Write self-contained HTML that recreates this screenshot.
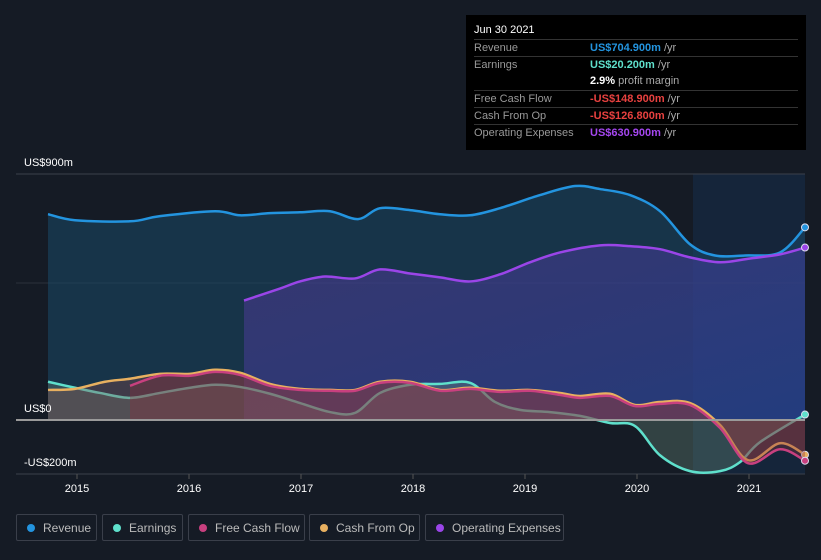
<!DOCTYPE html>
<html><head><meta charset="utf-8"><style>
body{margin:0;background:#151b25;font-family:"Liberation Sans",sans-serif;}
#wrap{position:relative;width:821px;height:560px;overflow:hidden;background:#151b25;}
.tt{position:absolute;left:466px;top:15px;width:340px;height:135px;background:#000;color:#ccc;font-size:11px;}
.tt .row{position:absolute;left:8px;width:324px;height:17px;border-top:1px solid #333;line-height:17px;}
.tt .l{position:absolute;left:0;color:#999;}
.tt .v{position:absolute;left:116px;}
.leg{position:absolute;top:514px;height:27px;border:1px solid #3a3f4a;border-radius:2px;color:#bbb;font-size:12px;line-height:27px;box-sizing:border-box;}
.leg i{position:absolute;left:10px;top:9px;width:8px;height:8px;border-radius:50%;}
.leg span{position:absolute;left:26px;}
</style></head><body>
<div id="wrap">
<svg id="svg" width="821" height="560" style="position:absolute;left:0;top:0">
<defs>
<linearGradient id="gop" x1="0" y1="0" x2="1" y2="1"><stop offset="0" stop-color="#5b3aa0" stop-opacity="0.45"/><stop offset="1" stop-color="#2b3f9a" stop-opacity="0.6"/></linearGradient>
</defs>
<rect x="693" y="174" width="112" height="300" fill="#15304f" opacity="0.5"/>
<line x1="16" x2="805" y1="174" y2="174" stroke="#3a404b"/>
<line x1="16" x2="805" y1="283" y2="283" stroke="#2c323c"/>
<line x1="16" x2="805" y1="474" y2="474" stroke="#3a404b"/>
<g id="marks"></g>
<line x1="16" x2="805" y1="420" y2="420" stroke="#9a9a9a" stroke-width="2"/>
<text x="24" y="166" fill="#fff" font-size="11">US$900m</text>
<text x="24" y="412" fill="#fff" font-size="11">US$0</text>
<text x="24" y="466" fill="#fff" font-size="11">-US$200m</text>
<g id="xt"></g>
</svg>
<div class="tt">
<div style="position:absolute;left:8px;top:9px;color:#fff;font-size:11px">Jun 30 2021</div>
<div class="row" style="top:24px"><span class="l">Revenue</span><span class="v" style="color:#2394df;font-weight:bold">US$704.900m <span style="color:#aaa;font-weight:normal">/yr</span></span></div>
<div class="row" style="top:41px;height:34px"><span class="l">Earnings</span><span class="v" style="color:#5fe0cc;font-weight:bold">US$20.200m <span style="color:#aaa;font-weight:normal">/yr</span></span><span class="v" style="top:16px;color:#fff;font-weight:bold">2.9% <span style="color:#aaa;font-weight:normal">profit margin</span></span></div>
<div class="row" style="top:75px"><span class="l">Free Cash Flow</span><span class="v" style="color:#e8413f;font-weight:bold">-US$148.900m <span style="color:#aaa;font-weight:normal">/yr</span></span></div>
<div class="row" style="top:92px"><span class="l">Cash From Op</span><span class="v" style="color:#e8413f;font-weight:bold">-US$126.800m <span style="color:#aaa;font-weight:normal">/yr</span></span></div>
<div class="row" style="top:109px"><span class="l">Operating Expenses</span><span class="v" style="color:#a547f0;font-weight:bold">US$630.900m <span style="color:#aaa;font-weight:normal">/yr</span></span></div>
</div>
<div class="leg" style="left:16px;width:81px"><i style="background:#2394df"></i><span>Revenue</span></div>
<div class="leg" style="left:102px;width:81px"><i style="background:#5fe0cc"></i><span>Earnings</span></div>
<div class="leg" style="left:188px;width:117px"><i style="background:#c8407f"></i><span>Free Cash Flow</span></div>
<div class="leg" style="left:309px;width:111px"><i style="background:#e8b060"></i><span>Cash From Op</span></div>
<div class="leg" style="left:425px;width:139px"><i style="background:#9a45e8"></i><span>Operating Expenses</span></div>
</div>
<script>
const xTickLabels=["2015","2016","2017","2018","2019","2020","2021"];
const revX=[48,75,130,160,215,240,270,300,330,358,380,410,440,470,500,540,575,600,630,660,690,715,745,780,805];
const revenue=[753,731,727,746,764,749,757,760,764,735,775,768,753,749,775,823,856,845,823,764,643,602,602,613,705];
const opX=[244,280,300,325,355,380,410,440,470,500,530,560,600,630,660,690,720,750,780,805];
const opex=[437,481,507,525,518,551,536,522,507,533,577,613,639,636,625,595,577,591,606,631];
const earnX=[48,75,100,130,160,190,215,240,270,300,330,355,380,410,440,470,495,520,550,580,610,635,660,690,720,740,760,805];
const earnings=[140,118,99,81,99,118,129,121,96,62,29,26,99,129,132,136,66,37,29,15,-11,-22,-129,-187,-187,-154,-81,20];
const cfoX=[48,75,105,130,160,190,215,240,270,300,330,355,380,410,440,470,500,530,560,580,610,635,660,690,720,748,780,805];
const cashFromOp=[110,114,140,151,169,169,184,173,132,114,110,110,140,140,110,118,107,110,99,88,96,55,66,62,-18,-147,-85,-127];
const fcfX=[130,160,190,215,240,270,300,330,355,380,410,440,470,500,530,560,580,610,635,660,690,720,748,780,805];
const freeCashFlow=[125,162,162,176,165,125,110,107,107,136,136,107,114,103,107,92,81,88,51,59,55,-29,-158,-107,-149];
// x arrays above are pixel samples along time axis; convert to years
const toYear=px=>2015+(px-77)/112;
const xs=y=>77+(y-2015)*112;
const ys=v=>420-v*0.2733;
const NS='http://www.w3.org/2000/svg';
const g=document.getElementById('marks');
function pathD(X,V){const p=X.map((x,i)=>[xs(toYear(x)),ys(V[i])]);let d='M'+p[0][0]+','+p[0][1];
for(let i=0;i<p.length-1;i++){const a=p[i-1]||p[i],b=p[i],c=p[i+1],e=p[i+2]||c;
d+=' C'+(b[0]+(c[0]-a[0])/6)+','+(b[1]+(c[1]-a[1])/6)+' '+(c[0]-(e[0]-b[0])/6)+','+(c[1]-(e[1]-b[1])/6)+' '+c[0]+','+c[1];}return {d,p};}
function series(name,X,V,color,fill,op){const r=pathD(X,V);
const a=document.createElementNS(NS,'path');a.setAttribute('d',r.d+' L'+r.p[r.p.length-1][0]+','+ys(0)+' L'+r.p[0][0]+','+ys(0)+'Z');a.setAttribute('fill',fill);a.setAttribute('opacity',op);


g.appendChild(a);
const l=document.createElementNS(NS,'path');l.setAttribute('d',r.d);l.setAttribute('fill','none');l.setAttribute('stroke',color);l.setAttribute('stroke-width','2.5');


g.appendChild(l);
const c=document.createElementNS(NS,'circle');const q=r.p[r.p.length-1];c.setAttribute('cx',q[0]);c.setAttribute('cy',q[1]);c.setAttribute('r',3.5);c.setAttribute('fill',color);c.setAttribute('stroke','#dde');c.setAttribute('stroke-width','1');


g.appendChild(c);}
series('revenue',revX,revenue,'#2394df','#1a4868',0.55);
series('operating-expenses',opX,opex,'#9a45e8','url(#gop)',1);
series('earnings',earnX,earnings,'#5fe0cc','#6a8c7a',0.35);
series('cash-from-op',cfoX,cashFromOp,'#e8b060','#8a4a4a',0.35);
series('free-cash-flow',fcfX,freeCashFlow,'#c8407f','#8a3040',0.35);
const xt=document.getElementById('xt');
xTickLabels.forEach(t=>{const x=xs(+t);
const ln=document.createElementNS(NS,'line');ln.setAttribute('x1',x);ln.setAttribute('x2',x);ln.setAttribute('y1',474);ln.setAttribute('y2',479);ln.setAttribute('stroke','#555');


xt.appendChild(ln);
const tx=document.createElementNS(NS,'text');tx.setAttribute('x',x);tx.setAttribute('y',492);tx.setAttribute('fill','#fff');tx.setAttribute('font-size','11');tx.setAttribute('text-anchor','middle');tx.textContent=t;


xt.appendChild(tx);});
</script>
</body></html>
